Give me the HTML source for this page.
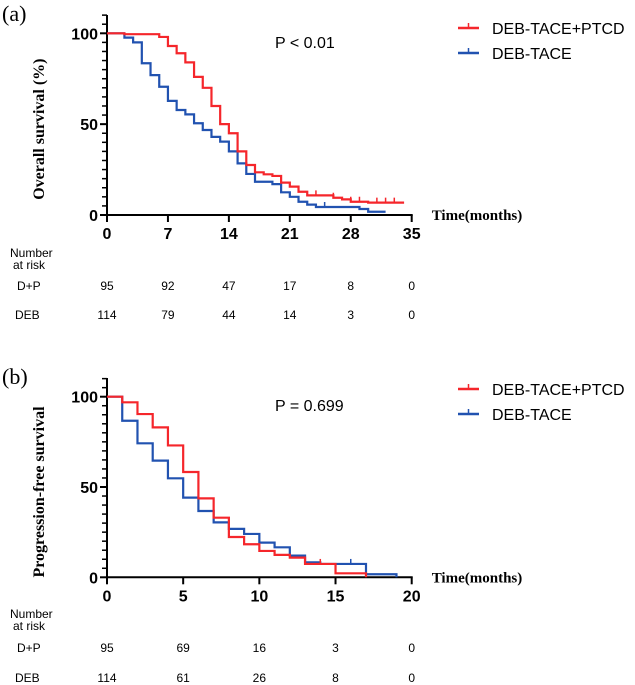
<!DOCTYPE html>
<html><head><meta charset="utf-8"><style>
body{margin:0;background:#fff;width:635px;height:685px;overflow:hidden}
svg{display:block}
.sans{font-family:"Liberation Sans",Arial,sans-serif}
.serif{font-family:"Liberation Serif","Times New Roman",serif}
</style></head><body>
<svg id="chart" width="635" height="685"></svg>
<script>
// Panel A: Overall survival
const aRedT=[0,2,6,7,8,9,10,11,12,13,14,15,16,17,18,19,20,21,22,23,26,27,28,30,34];
const aRedS=[100,99.5,98,93,89,84,76,70,60,50,45,35,27.5,23.5,22.4,21.5,17.8,15.6,12.8,10.8,9.5,8.6,7.3,6.8,6.2];
const aBlueT=[0,2,3,4,5,6,7,8,9,10,11,12,13,14,15,16,17,19,20,21,22,23,24,29,30,32];
const aBlueS=[100,97.6,95,83.5,77,70.6,62.8,57.8,55.4,50.5,46.8,43,40.4,35,28.4,22.6,18.3,17,12.5,10,7.3,5.7,4.4,3.3,1.8,1.8];
const aRedCens=[24,26,28,29,31,32,33];
const aBlueCens=[22,25];
const aXTicks=[0,7,14,21,28,35];
const aRiskDP=[95,92,47,17,8,0];
const aRiskDEB=[114,79,44,14,3,0];
// Panel B: Progression-free survival
const bRedT=[0,1,2,3,4,5,6,7,8,9,10,11,12,13,15,17];
const bRedS=[100,96.9,90.4,83,73,58.3,43.7,33,22.3,18.3,14.6,12.4,10.9,7.4,2.2,0];
const bBlueT=[0,1,2,3,4,5,6,7,8,9,10,11,12,13,14,17,19];
const bBlueS=[100,86.7,74.2,64.6,54.8,44.1,36.7,30.4,26.8,24,19.2,16.6,12,8.3,7.4,1.7,0];
const bRedCens=[14];
const bBlueCens=[16];
const bXTicks=[0,5,10,15,20];
const bRiskDP=[95,69,16,3,0];
const bRiskDEB=[114,61,26,8,0];
const yTicks=[0,50,100];

const NS='http://www.w3.org/2000/svg';
const svg=document.getElementById('chart');
function mk(tag,attrs,parent,text){const e=document.createElementNS(NS,tag);for(const k in attrs)e.setAttribute(k,attrs[k]);if(text!==undefined)e.textContent=text;(parent||svg).appendChild(e);return e;}

function panel(o){
  const g=mk('g',{});
  
  
  const x=t=>o.x0+(t/o.xmax)*(o.x1-o.x0);
  const y=s=>o.y0-(s/100)*(o.y0-o.y100);
  const lab=mk('text',{x:2,y:o.labY,'font-size':22,class:'serif'},g,o.letter);
  
  
  const ax=mk('g',{stroke:'#000','stroke-width':2,fill:'none'},g);
  
  
  mk('line',{x1:o.x0,y1:o.yTop,x2:o.x0,y2:o.y0+1},ax);
  mk('line',{x1:o.x0-1,y1:o.y0,x2:x(o.xmax)+1,y2:o.y0},ax);
  for(let v=0;v<=110;v+=5){
    if(y(v)<o.yTop-0.5)break;
    const maj=v%50===0;
    mk('line',{x1:o.x0-(maj?7:5),y1:y(v),x2:o.x0,y2:y(v),'stroke-width':maj?2:1.5},ax);
  }
  yTicks.forEach(v=>{
    const t=mk('text',{x:o.x0-9,y:y(v)+6,'font-size':16,'font-weight':'bold','text-anchor':'end',class:'sans'},g,v);
    
    
  });
  o.xTicks.forEach((v,i)=>{
    mk('line',{x1:x(v),y1:o.y0,x2:x(v),y2:o.y0+7,stroke:'#000','stroke-width':2},g);
    const t=mk('text',{x:x(v),y:o.y0+24,'font-size':16,'font-weight':'bold','text-anchor':'middle',class:'sans'},g,v);
    
    
    const r1=mk('text',{x:x(v),y:o.riskY1,'font-size':12,'text-anchor':'middle',class:'sans'},g,o.dp[i]);
    
    
    const r2=mk('text',{x:x(v),y:o.riskY2,'font-size':12,'text-anchor':'middle',class:'sans'},g,o.deb[i]);
    
    
  });
  const xt=mk('text',{x:o.x1+20,y:o.y0+5,'font-size':15,'font-weight':'bold',class:'serif'},g,'Time(months)');
  
  
  const cy=(o.y0+o.y100)/2;
  const yt=mk('text',{x:0,y:0,'font-size':16,'font-weight':'bold','text-anchor':'middle',class:'serif',transform:`translate(${o.yTitleX},${cy+5}) rotate(-90)`},g,o.ytitle);
  
  
  const n1=mk('text',{x:10,y:o.numY,'font-size':12,class:'sans'},g,'Number');
  
  
  mk('text',{x:13,y:o.numY+12,'font-size':12,class:'sans'},g,'at risk');
  const d1=mk('text',{x:17,y:o.riskY1,'font-size':12,class:'sans'},g,'D+P');
  
  
  const d2=mk('text',{x:15,y:o.riskY2,'font-size':12,class:'sans'},g,'DEB');
  
  
  const pv=mk('text',{x:o.pX,y:o.pY,'font-size':16,class:'sans'},g,o.p);
  
  
  function curve(T,S,cens,color,nm){
    let d=`M${x(T[0])},${y(S[0])}`;
    for(let i=1;i<T.length;i++){d+=` H${x(T[i])} V${y(S[i])}`;}
    const p=mk('path',{d:d,fill:'none',stroke:color,'stroke-width':2.2},g);
    
    
    cens.forEach(c=>{
      let s=S[0];for(let i=0;i<T.length;i++){if(T[i]<=c)s=S[i];}
      const m=mk('line',{x1:x(c),y1:y(s),x2:x(c),y2:y(s)-5,stroke:color,'stroke-width':1.5},g);
      
      
    });
  }
  curve(o.bT,o.bS,o.bC,'#2152b0','curve-deb-tace');
  curve(o.rT,o.rS,o.rC,'#f5262b','curve-deb-tace-ptcd');
  [['#f5262b','DEB-TACE+PTCD',0],['#2152b0','DEB-TACE',1]].forEach(([c,t,i])=>{
    const ly=o.legY+i*25;
    const le=mk('g',{},g);
    
    
    mk('line',{x1:458,y1:ly,x2:479,y2:ly,stroke:c,'stroke-width':2.5},le);
    mk('line',{x1:468.5,y1:ly,x2:468.5,y2:ly-5,stroke:c,'stroke-width':1.5},le);
    mk('text',{x:492,y:ly+6,'font-size':16,class:'sans'},le,t);
  });
}
panel({name:'panel-a-overall-survival',letter:'(a)',labY:21,x0:107,x1:411.7,xmax:35,y0:215,y100:33.3,yTop:15,
  xTicks:aXTicks,dp:aRiskDP,deb:aRiskDEB,riskY1:290,riskY2:319,numY:257,ytitle:'Overall survival (%)',yTitleX:44,
  p:'P < 0.01',pX:275,pY:48,rT:aRedT,rS:aRedS,rC:aRedCens,bT:aBlueT,bS:aBlueS,bC:aBlueCens,legY:28});
panel({name:'panel-b-progression-free-survival',letter:'(b)',labY:384,x0:107,x1:411.7,xmax:20,y0:577.3,y100:396.7,yTop:378,
  xTicks:bXTicks,dp:bRiskDP,deb:bRiskDEB,riskY1:652,riskY2:682,numY:618,ytitle:'Progression-free survival',yTitleX:44,
  p:'P = 0.699',pX:275,pY:411,rT:bRedT,rS:bRedS,rC:bRedCens,bT:bBlueT,bS:bBlueS,bC:bBlueCens,legY:389});
</script>
</body></html>
